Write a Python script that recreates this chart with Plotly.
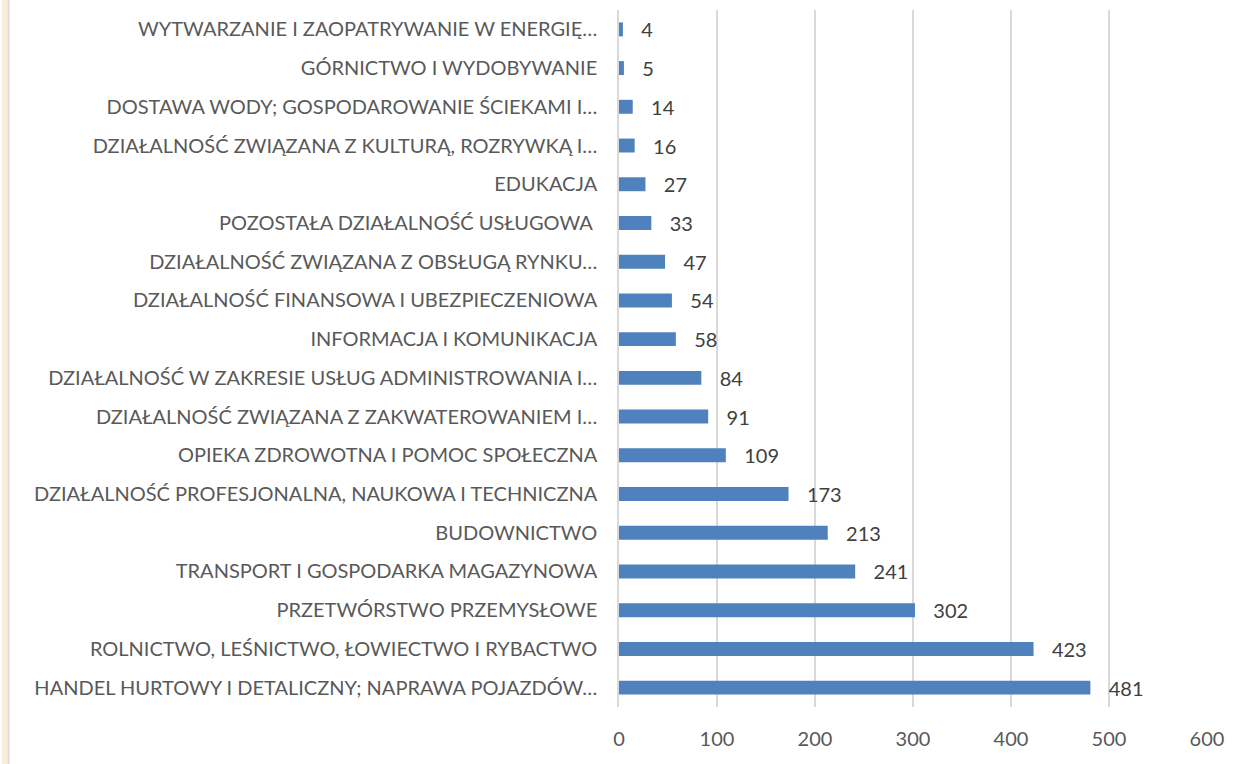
import plotly.graph_objects as go

categories = [
    "WYTWARZANIE I ZAOPATRYWANIE W ENERGIĘ…",
    "GÓRNICTWO I WYDOBYWANIE",
    "DOSTAWA WODY; GOSPODAROWANIE ŚCIEKAMI I…",
    "DZIAŁALNOŚĆ ZWIĄZANA Z KULTURĄ, ROZRYWKĄ I…",
    "EDUKACJA",
    "POZOSTAŁA DZIAŁALNOŚĆ USŁUGOWA ",
    "DZIAŁALNOŚĆ ZWIĄZANA Z OBSŁUGĄ RYNKU…",
    "DZIAŁALNOŚĆ FINANSOWA I UBEZPIECZENIOWA",
    "INFORMACJA I KOMUNIKACJA",
    "DZIAŁALNOŚĆ W ZAKRESIE USŁUG ADMINISTROWANIA I…",
    "DZIAŁALNOŚĆ ZWIĄZANA Z ZAKWATEROWANIEM I…",
    "OPIEKA ZDROWOTNA I POMOC SPOŁECZNA",
    "DZIAŁALNOŚĆ PROFESJONALNA, NAUKOWA I TECHNICZNA",
    "BUDOWNICTWO",
    "TRANSPORT I GOSPODARKA MAGAZYNOWA",
    "PRZETWÓRSTWO PRZEMYSŁOWE",
    "ROLNICTWO, LEŚNICTWO, ŁOWIECTWO I RYBACTWO",
    "HANDEL HURTOWY I DETALICZNY; NAPRAWA POJAZDÓW…",
]
values = [4, 5, 14, 16, 27, 33, 47, 54, 58, 84, 91, 109, 173, 213, 241, 302, 423, 481]
x_ticks = [0, 100, 200, 300, 400, 500, 600]

W, H = 1234, 764
ML, MR, MT, MB = 619, 25, 10, 57
pw = W - ML - MR
ph = H - MT - MB
FONT = "Lato"

fig = go.Figure(go.Bar(
    x=values,
    y=categories,
    orientation="h",
    marker=dict(color="#4f81bd", line=dict(width=0)),
    text=values,
    texttemplate="   %{x}",
    textposition="outside",
    constraintext="none",
    cliponaxis=False,
    textfont=dict(size=20, color="#404040", family=FONT),
))

fig.update_layout(
    width=W, height=H,
    margin=dict(l=ML, r=MR, t=MT, b=MB),
    paper_bgcolor="white",
    plot_bgcolor="white",
    bargap=0.64,
    showlegend=False,
    font=dict(family=FONT, size=20, color="#595959"),
    xaxis=dict(
        range=[0, 600],
        tickvals=x_ticks,
        showgrid=True,
        gridcolor="#d9d9d9",
        gridwidth=1.5,
        zeroline=False,
        showline=False,
        ticks="",
        ticklabelstandoff=18,
        tickfont=dict(size=20, color="#595959", family=FONT),
    ),
    yaxis=dict(
        categoryorder="array",
        categoryarray=categories[::-1],
        showgrid=False,
        zeroline=False,
        showline=True,
        linecolor="#d9d9d9",
        linewidth=1.5,
        ticks="",
        ticklabelstandoff=16,
        tickfont=dict(size=20, color="#595959", family=FONT),
    ),
    shapes=[
        dict(type="rect", xref="paper", yref="paper",
             x0=-ML / pw, x1=(6 - ML) / pw, y0=-MB / ph, y1=1 + MT / ph,
             fillcolor="#f8efd6", line=dict(width=0), layer="below"),
        dict(type="line", xref="paper", yref="paper",
             x0=(6.5 - ML) / pw, x1=(6.5 - ML) / pw, y0=-MB / ph, y1=1 + MT / ph,
             line=dict(color="#d9d9d9", width=1.5)),
    ],
)

fig.write_html("out.html")
